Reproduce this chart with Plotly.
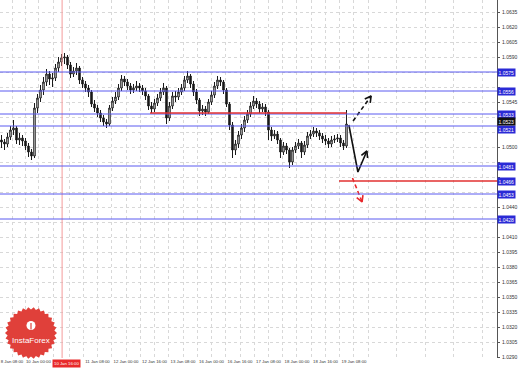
import plotly.graph_objects as go
import numpy as np

# ---------------- data ----------------
close = [1.0505,1.0503,1.0510,1.0517,1.0519,1.0507,1.0509,1.0506,1.0501,1.0495,
         1.0491,1.0539,1.0549,1.0557,1.0565,1.0573,1.0568,1.0569,1.0579,1.0585,
         1.0589,1.0590,1.0582,1.0573,1.0576,1.0579,1.0567,1.0563,1.0559,1.0555,
         1.0543,1.0539,1.0534,1.0529,1.0525,1.0523,1.0539,1.0546,1.0550,1.0559,
         1.0568,1.0565,1.0561,1.0557,1.0559,1.0561,1.0559,1.0556,1.0551,1.0541,
         1.0538,1.0544,1.0549,1.0555,1.0559,1.0529,1.0541,1.0551,1.0550,1.0555,
         1.0559,1.0567,1.0571,1.0563,1.0555,1.0547,1.0536,1.0538,1.0535,1.0545,
         1.0552,1.0561,1.0567,1.0565,1.0557,1.0543,1.0522,1.0497,1.0503,1.0512,
         1.0519,1.0527,1.0533,1.0541,1.0546,1.0543,1.0538,1.0540,1.0535,1.0517,
         1.0511,1.0513,1.0507,1.0495,1.0501,1.0497,1.0485,1.0497,1.0501,1.0504,
         1.0495,1.0502,1.0511,1.0513,1.0516,1.0514,1.0511,1.0508,1.0506,1.0503,
         1.0507,1.0508,1.0509,1.0504,1.0501,1.0523]
high = [1.0512,1.0508,1.0514,1.0521,1.0527,1.0521,1.0514,1.0512,1.0509,1.0504,
        1.0498,1.0544,1.0553,1.0562,1.0570,1.0578,1.0576,1.0574,1.0583,1.0590,
        1.0593,1.0594,1.0592,1.0585,1.0580,1.0584,1.0581,1.0570,1.0566,1.0562,
        1.0557,1.0547,1.0542,1.0537,1.0532,1.0528,1.0542,1.0550,1.0555,1.0563,
        1.0572,1.0571,1.0568,1.0564,1.0563,1.0566,1.0564,1.0562,1.0559,1.0553,
        1.0545,1.0548,1.0553,1.0559,1.0564,1.0561,1.0545,1.0555,1.0556,1.0559,
        1.0563,1.0571,1.0576,1.0573,1.0566,1.0558,1.0549,1.0542,1.0541,1.0548,
        1.0556,1.0565,1.0571,1.0570,1.0567,1.0559,1.0545,1.0525,1.0507,1.0516,
        1.0523,1.0531,1.0537,1.0545,1.0551,1.0549,1.0546,1.0544,1.0543,1.0537,
        1.0520,1.0517,1.0516,1.0509,1.0505,1.0504,1.0499,1.0500,1.0505,1.0508,
        1.0506,1.0506,1.0515,1.0517,1.0520,1.0519,1.0517,1.0514,1.0512,1.0509,
        1.0511,1.0512,1.0513,1.0512,1.0507,1.0537]
low = [1.0499,1.0497,1.0500,1.0507,1.0512,1.0503,1.0502,1.0501,1.0497,1.0490,
       1.0487,1.0489,1.0534,1.0545,1.0552,1.0561,1.0562,1.0560,1.0566,1.0575,
       1.0581,1.0583,1.0578,1.0569,1.0570,1.0572,1.0563,1.0559,1.0555,1.0550,
       1.0540,1.0535,1.0530,1.0525,1.0521,1.0519,1.0521,1.0536,1.0543,1.0547,
       1.0556,1.0561,1.0557,1.0553,1.0554,1.0556,1.0555,1.0552,1.0547,1.0537,
       1.0534,1.0535,1.0541,1.0546,1.0552,1.0523,1.0526,1.0538,1.0545,1.0547,
       1.0552,1.0556,1.0564,1.0559,1.0551,1.0543,1.0531,1.0532,1.0531,1.0533,
       1.0542,1.0549,1.0558,1.0561,1.0553,1.0540,1.0517,1.0489,1.0492,1.0499,
       1.0508,1.0515,1.0524,1.0530,1.0538,1.0539,1.0534,1.0535,1.0531,1.0507,
       1.0506,1.0508,1.0503,1.0489,1.0492,1.0493,1.0479,1.0482,1.0494,1.0498,
       1.0489,1.0492,1.0499,1.0508,1.0510,1.0510,1.0507,1.0504,1.0502,1.0499,
       1.0500,1.0504,1.0505,1.0500,1.0497,1.0499]
first_open = 1.0507
opens = [first_open] + close[:-1]
bars = list(range(len(close)))

blue_levels = [1.0575, 1.0556, 1.0533, 1.0521, 1.0481, 1.0453, 1.0428]
red_levels = [1.0534, 1.0466]
red_starts = [49.5, 112.5]
red_ends = [115.0, 165.2]
current_price = 1.0523
marker_bar = 20.2

y_ticks = [round(1.0635 - 0.0015 * k, 4) for k in range(24)]
x_label_bars = [3.5, 12.3, 22.5, 32, 41.5, 51, 60.5, 70, 79.5, 89, 98.5, 108, 117.5]
x_labels = ["8 Jan 08:00", "10 Jan 00:00", "", "11 Jan 08:00", "12 Jan 00:00",
            "12 Jan 16:00", "13 Jan 08:00", "16 Jan 00:00", "16 Jan 16:00",
            "17 Jan 08:00", "18 Jan 00:00", "18 Jan 16:00", "19 Jan 08:00"]
marker_label = "10 Jan 16:00"

# forecast paths
solid_x = [115.8, 118.8, 121.8]
solid_y = [1.0522, 1.0475, 1.0496]
dash_x = [117.2, 123.2]
dash_y = [1.0526, 1.0551]
red_dash_x = [117.0, 120.2]
red_dash_y = [1.0469, 1.0445]

# ---------------- geometry helpers ----------------
X0, X1 = -0.5, 165.17
Y0, Y1 = 1.0289, 1.0647
PW, PH = 497, 358

def to_px(xv, yv):
    return (xv - X0) / (X1 - X0) * PW, (Y1 - yv) / (Y1 - Y0) * PH

def to_data(px, py):
    return X0 + px / PW * (X1 - X0), Y1 - py / PH * (Y1 - Y0)

def head(xs, ys, size=7, spread=0.5):
    tx, ty = to_px(xs[-1], ys[-1])
    bx, by = to_px(xs[-2], ys[-2])
    ang = np.arctan2(by - ty, bx - tx)
    pts = []
    for s in (-spread, spread):
        pts.append(to_data(tx + size * np.cos(ang + s), ty + size * np.sin(ang + s)))
    return [pts[0][0], xs[-1], pts[1][0]], [pts[0][1], ys[-1], pts[1][1]]

fig = go.Figure()

fig.add_trace(go.Candlestick(
    x=bars, open=opens, high=high, low=low, close=close,
    increasing=dict(line=dict(color="#1a1a1a", width=1), fillcolor="#ffffff"),
    decreasing=dict(line=dict(color="#1a1a1a", width=1), fillcolor="#1a1a1a"),
    whiskerwidth=0, showlegend=False, hoverinfo="skip"))

# forecast arrows
fig.add_trace(go.Scatter(x=solid_x, y=solid_y, mode="lines",
                         line=dict(color="#111", width=1.6), showlegend=False))
hx, hy = head(solid_x, solid_y)
fig.add_trace(go.Scatter(x=hx, y=hy, mode="lines",
                         line=dict(color="#111", width=1.6), showlegend=False))
fig.add_trace(go.Scatter(x=dash_x, y=dash_y, mode="lines",
                         line=dict(color="#111", width=1.6, dash="4px,3px"), showlegend=False))
hx, hy = head(dash_x, dash_y)
fig.add_trace(go.Scatter(x=hx, y=hy, mode="lines",
                         line=dict(color="#111", width=1.6), showlegend=False))
fig.add_trace(go.Scatter(x=red_dash_x, y=red_dash_y, mode="lines",
                         line=dict(color="#e8262a", width=1.6, dash="4px,3px"), showlegend=False))
hx, hy = head(red_dash_x, red_dash_y)
fig.add_trace(go.Scatter(x=hx, y=hy, mode="lines",
                         line=dict(color="#e8262a", width=1.6), showlegend=False))

shapes = []
shapes.append(dict(type="line", xref="x", yref="paper", x0=marker_bar, x1=marker_bar,
                   y0=0, y1=1, line=dict(color="#f49a9a", width=1)))
for lv in blue_levels:
    shapes.append(dict(type="line", xref="paper", yref="y", x0=0, x1=1, y0=lv, y1=lv,
                       line=dict(color="#5b5bf0", width=1)))
for lv, a, b in zip(red_levels, red_starts, red_ends):
    shapes.append(dict(type="line", xref="x", yref="y", x0=a, x1=b, y0=lv, y1=lv,
                       line=dict(color="#e23030", width=1.5)))

# logo (serrated disc)
cx, cy, r_out, r_in, teeth = 31, 333, 26, 23.5, 30
ang = np.linspace(0, 2 * np.pi, teeth * 2, endpoint=False)
rr = np.where(np.arange(teeth * 2) % 2 == 0, r_out, r_in)
pxs = (cx + rr * np.cos(ang)) / PW
pys = (PH - (cy + rr * np.sin(ang))) / PH
path = "M " + " L ".join(f"{a:.5f},{b:.5f}" for a, b in zip(pxs, pys)) + " Z"
shapes.append(dict(type="path", xref="paper", yref="paper", path=path,
                   fillcolor="#e0403a", line=dict(width=0), layer="above"))
shapes.append(dict(type="circle", xref="paper", yref="paper",
                   x0=(cx - 4.5) / PW, x1=(cx + 4.5) / PW,
                   y0=(PH - 330) / PH, y1=(PH - 321) / PH,
                   fillcolor="#ffffff", line=dict(width=0), layer="above"))
shapes.append(dict(type="line", xref="paper", yref="paper",
                   x0=cx / PW, x1=cx / PW, y0=(PH - 329.5) / PH, y1=(PH - 323) / PH,
                   line=dict(color="#e0403a", width=1.2), layer="above"))

annotations = []
annotations.append(dict(text="InstaForex", xref="paper", yref="paper",
                        x=cx / PW, y=(PH - 340) / PH, xanchor="center", yanchor="middle",
                        showarrow=False,
                        font=dict(family="Liberation Sans", size=8, color="#ffffff")))

def price_label(v, bg, shift=0, fg="#ffffff"):
    return dict(text=f"{v:.4f}", xref="paper", yref="y", x=1.0, y=v, xanchor="left",
                yanchor="middle", yshift=shift, showarrow=False, bgcolor=bg, borderpad=0.5,
                font=dict(family="Liberation Sans", size=5, color=fg))
label_levels = blue_levels + red_levels[1:]
for lv in label_levels:
    annotations.append(price_label(lv, "#2a2ad6", -3 if lv == 1.0521 else 0))
annotations.append(price_label(current_price, "#111111", 3))
annotations.append(dict(text=marker_label, xref="x", yref="paper", x=marker_bar + 1.5,
                        y=0, yanchor="top", yshift=-1, showarrow=False, bgcolor="#e82a2a",
                        font=dict(family="Liberation Sans", size=4.3, color="#ffffff")))

# hide axis labels that sit under a highlighted label
hidden = label_levels + [current_price]
y_text = ["" if min(abs(v - h) for h in hidden) < 0.0006 else f"{v:.4f}" for v in y_ticks]
x_minor = [(a + b) / 2 for a, b in zip(x_label_bars[:-1], x_label_bars[1:])] + \
          [x_label_bars[-1] + 4.75 + 9.5 * k for k in range(5)]

fig.update_layout(
    width=518, height=368,
    margin=dict(l=0, r=21, t=0, b=10, autoexpand=False),
    paper_bgcolor="#ffffff", plot_bgcolor="#ffffff",
    shapes=shapes, annotations=annotations,
    showlegend=False,
    xaxis=dict(range=[X0, X1], rangeslider=dict(visible=False), automargin=False,
               tickmode="array", tickvals=x_label_bars, ticktext=x_labels, tickangle=0,
               tickfont=dict(family="Liberation Sans", size=4.3, color="#333"),
               showgrid=True, gridcolor="#d8d8d8", griddash="dot", gridwidth=1,
               minor=dict(tickvals=x_minor, showgrid=True, gridcolor="#d8d8d8",
                          griddash="dot", gridwidth=1),
               zeroline=False, showline=False, ticks="", ticklabelstandoff=0),
    yaxis=dict(range=[Y0, Y1], side="right", tickmode="array", tickvals=y_ticks,
               ticktext=y_text, automargin=False,
               tickfont=dict(family="Liberation Sans", size=5, color="#333"),
               showgrid=True, gridcolor="#d8d8d8", griddash="dot", gridwidth=1,
               zeroline=False, showline=True, linecolor="#555", linewidth=1,
               ticks="outside", ticklen=2, tickcolor="#555", ticklabelstandoff=1),
)

fig.write_html("out.html")
